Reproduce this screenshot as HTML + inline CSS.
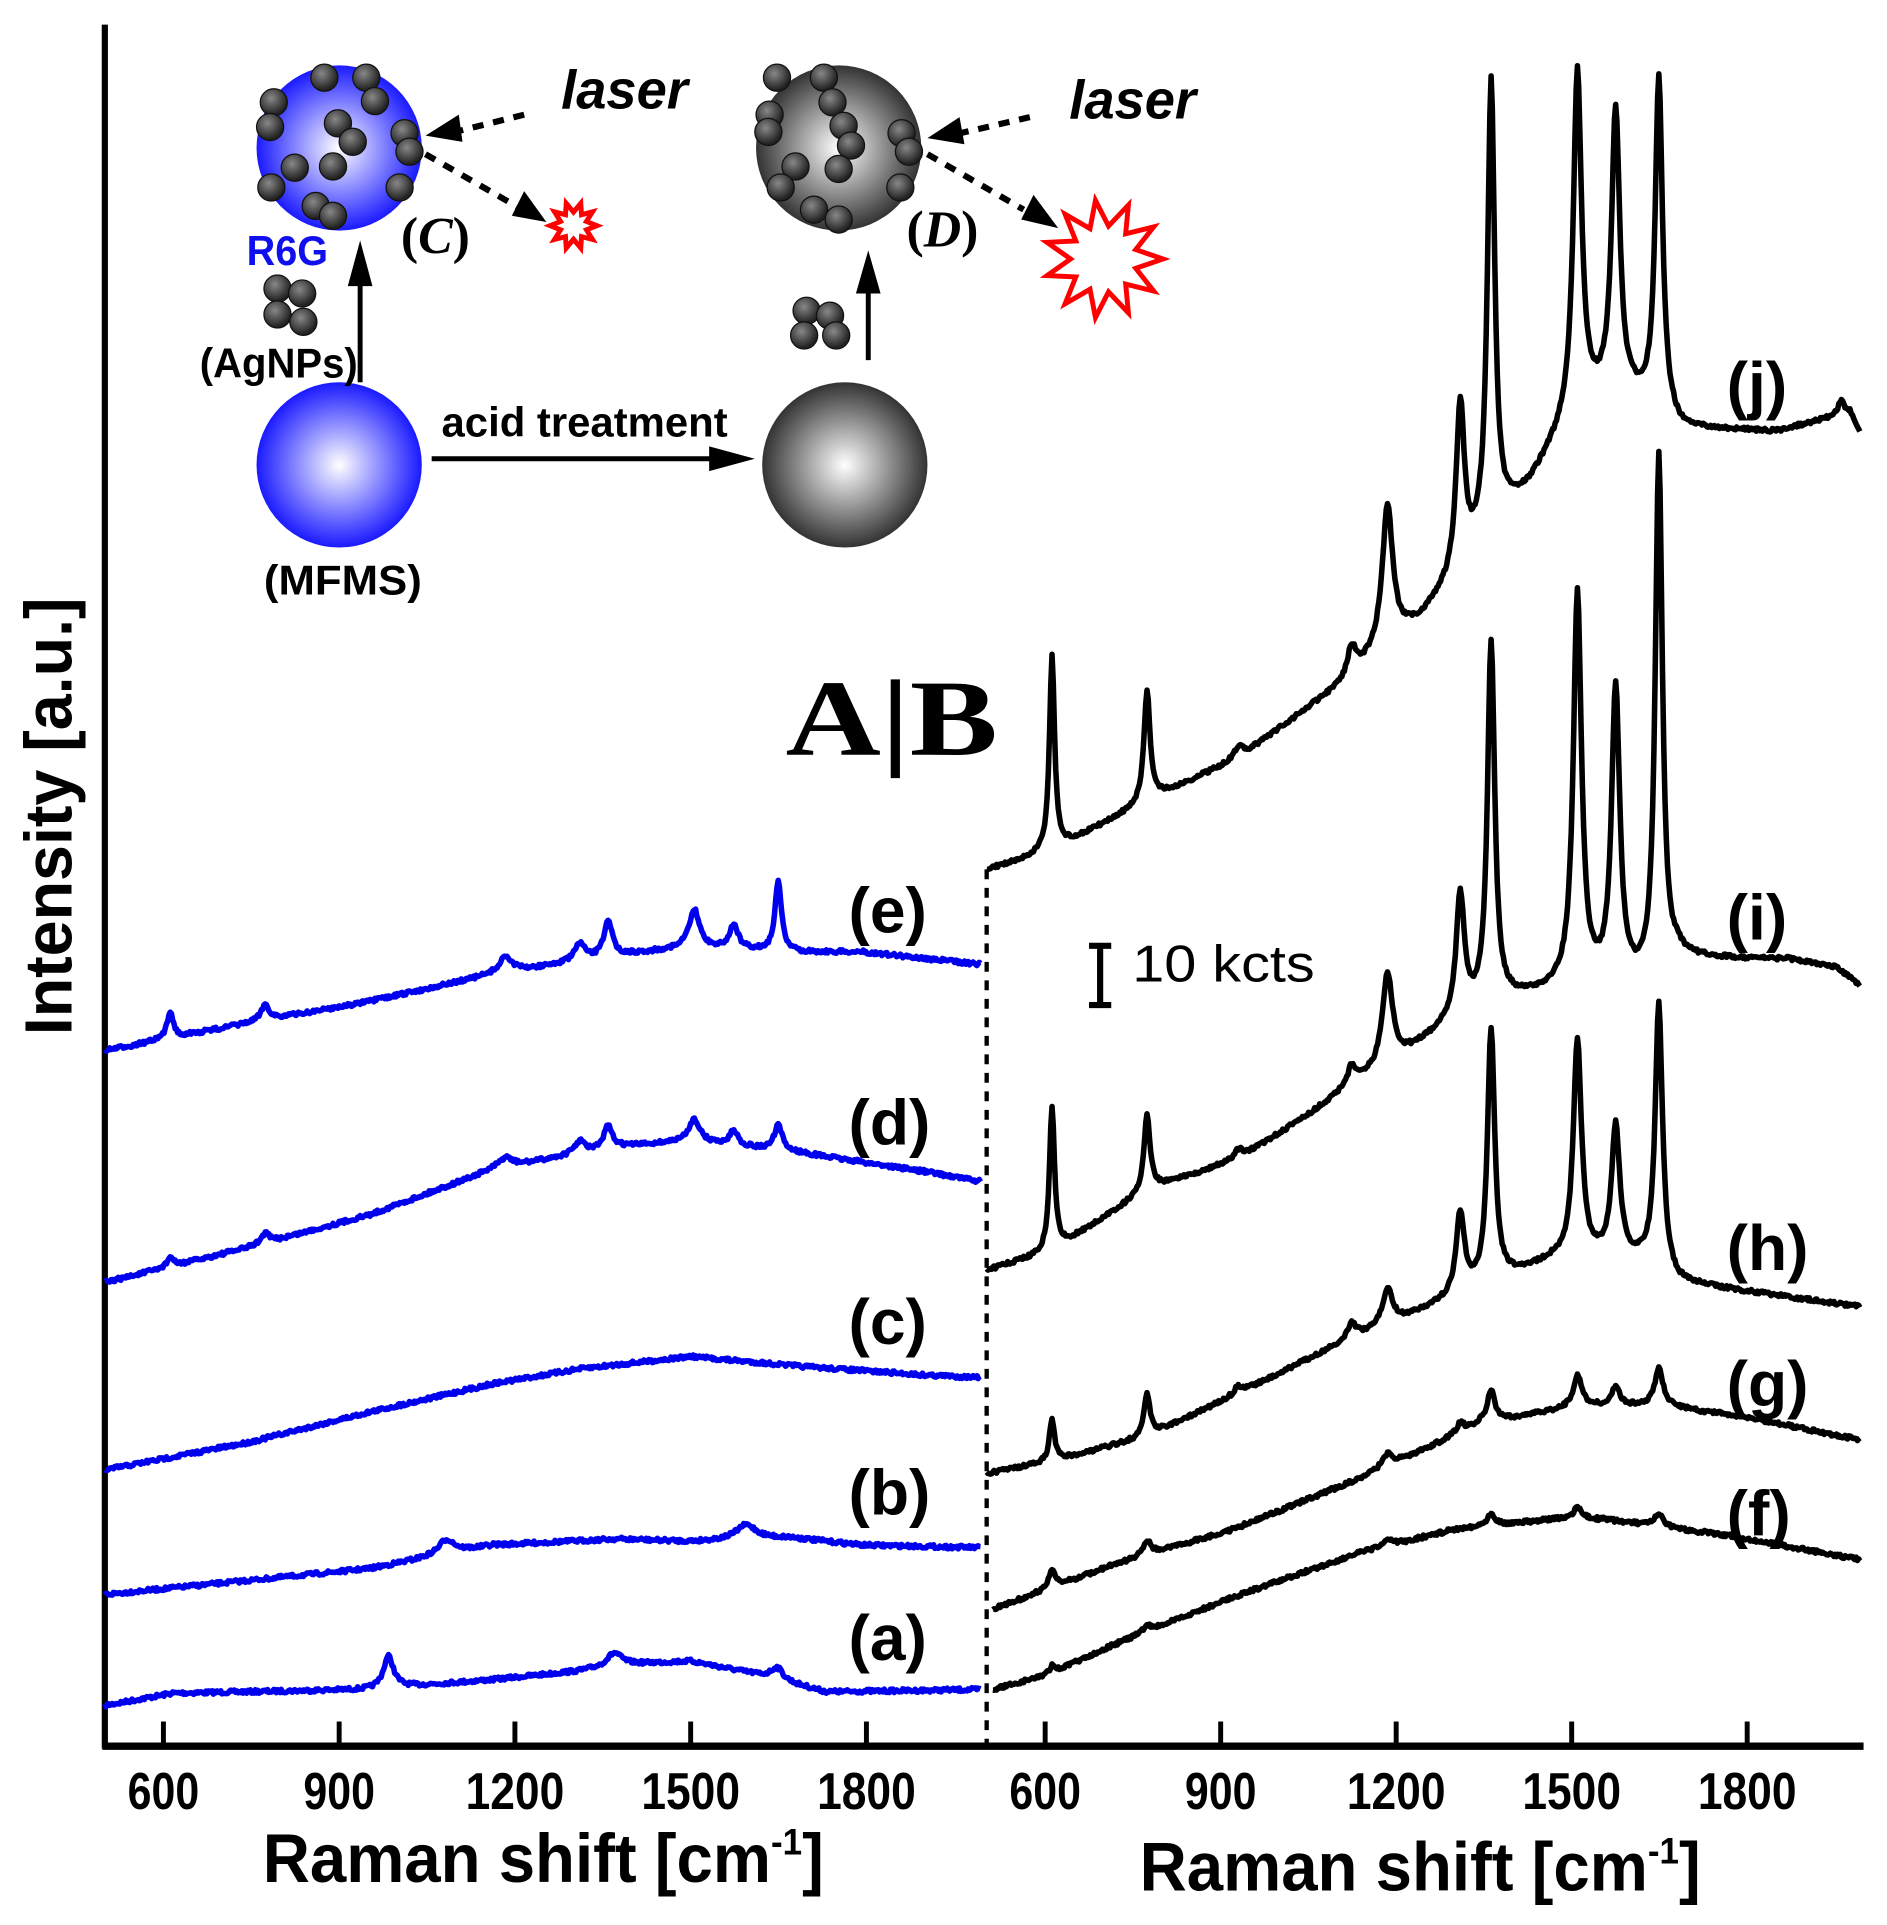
<!DOCTYPE html>
<html><head><meta charset="utf-8"><style>
html,body{margin:0;padding:0;background:#fff;}
svg{display:block;}
.t{font-family:"Liberation Sans",sans-serif;font-weight:bold;}
</style></head><body>
<svg id="s" width="1887" height="1925" viewBox="0 0 1530 1561" preserveAspectRatio="none" xmlns="http://www.w3.org/2000/svg">
<defs>
<radialGradient id="gb" cx="50%" cy="50%" r="50%"><stop offset="0" stop-color="#fff"/><stop offset="1" stop-color="#1a1aff"/></radialGradient>
<radialGradient id="gg" cx="50%" cy="50%" r="50%"><stop offset="0" stop-color="#fff"/><stop offset="1" stop-color="#333"/></radialGradient>
<radialGradient id="gd" cx="40%" cy="35%" r="60%"><stop offset="0" stop-color="#888"/><stop offset="1" stop-color="#222"/></radialGradient>
</defs>
<rect width="1530" height="1561" fill="#fff"/>
<line x1="85" y1="20" x2="85" y2="1418" stroke="#000" stroke-width="5"/>
<line x1="83" y1="1416" x2="1511" y2="1416" stroke="#000" stroke-width="6"/>
<g stroke="#000" stroke-width="4" id="ticks"></g>
<g class="t" font-size="42" text-anchor="middle" id="tl"></g>
<text class="t" x="213" y="1526" font-size="56" textLength="455" lengthAdjust="spacingAndGlyphs">Raman shift [cm<tspan dy="-22" font-size="30">-1</tspan><tspan dy="22">]</tspan></text>
<text class="t" x="924" y="1533" font-size="56" textLength="455" lengthAdjust="spacingAndGlyphs">Raman shift [cm<tspan dy="-22" font-size="30">-1</tspan><tspan dy="22">]</tspan></text>
<text class="t" x="0" y="0" font-size="54" text-anchor="middle" textLength="355" lengthAdjust="spacingAndGlyphs" transform="translate(58,662) rotate(-90)">Intensity [a.u.]</text>
<line x1="800" y1="705" x2="800" y2="1414" stroke="#000" stroke-width="3.5" stroke-dasharray="8,7"/>
<g id="curves" fill="none" stroke-width="4.5" stroke-linejoin="round"></g>
<g class="t" font-size="52">
<text x="688" y="756">(e)</text><text x="688" y="928">(d)</text><text x="688" y="1090">(c)</text>
<text x="688" y="1228">(b)</text><text x="688" y="1346">(a)</text>
<text x="1400" y="330">(j)</text><text x="1400" y="762">(i)</text><text x="1400" y="1030">(h)</text>
<text x="1400" y="1140">(g)</text><text x="1400" y="1245">(f)</text>
</g>
<text x="637" y="612" font-family="Liberation Serif,serif" font-weight="bold" font-size="88" textLength="172" lengthAdjust="spacingAndGlyphs">A|B</text>
<path d="M883,767h18M892,767v48M883,815h18" stroke="#000" stroke-width="5" fill="none"/>
<text x="918" y="796" font-family="Liberation Sans,sans-serif" font-size="42" textLength="148" lengthAdjust="spacingAndGlyphs">10 kcts</text>
<circle cx="275" cy="120" r="67" fill="url(#gb)"/>
<circle cx="680" cy="120" r="67" fill="url(#gg)"/>
<circle cx="275" cy="377" r="67" fill="url(#gb)"/>
<circle cx="685" cy="377" r="67" fill="url(#gg)"/>
<g id="dots" fill="url(#gd)"></g>
<line x1="350" y1="372" x2="580" y2="372" stroke="#000" stroke-width="4"/>
<polygon points="575,362 612,372 575,382" fill="#000"/>
<line x1="292" y1="310" x2="292" y2="225" stroke="#000" stroke-width="4"/>
<polygon points="282,232 292,195 302,232" fill="#000"/>
<line x1="704" y1="292" x2="704" y2="232" stroke="#000" stroke-width="4"/>
<polygon points="694,238 704,203 714,238" fill="#000"/>
<g stroke="#000" stroke-width="5" stroke-dasharray="9,8" fill="none">
<line x1="425" y1="93" x2="365" y2="108"/><line x1="345" y1="125" x2="420" y2="168"/>
<line x1="835" y1="95" x2="770" y2="110"/><line x1="752" y1="125" x2="830" y2="170"/>
</g>
<polygon points="345,110 372,93 375,115" fill="#000"/>
<polygon points="443,180 415,175 425,155" fill="#000"/>
<polygon points="752,112 778,95 782,117" fill="#000"/>
<polygon points="858,185 828,178 838,158" fill="#000"/>
<g id="stars" fill="none" stroke="#f00" stroke-width="4"></g>
<g class="t" font-size="34">
<text x="358" y="354" textLength="232" lengthAdjust="spacingAndGlyphs">acid treatment</text>
<text x="214" y="482" textLength="128" lengthAdjust="spacingAndGlyphs">(MFMS)</text>
<text x="162" y="306" textLength="128" lengthAdjust="spacingAndGlyphs">(AgNPs)</text>
<text x="200" y="215" fill="#1010ee" textLength="66" lengthAdjust="spacingAndGlyphs">R6G</text>
</g>
<g class="t" font-size="44" font-style="italic"><text x="455" y="88">laser</text><text x="867" y="96">laser</text></g>
<g font-family="Liberation Serif,serif" font-size="42" font-weight="bold"><text x="325" y="205">(<tspan font-style="italic">C</tspan>)</text><text x="735" y="200">(<tspan font-style="italic">D</tspan>)</text></g>
</svg>
<script>
const NS="http://www.w3.org/2000/svg";
function el(p,tag,attrs,txt){const e=document.createElementNS(NS,tag);for(const k in attrs)e.setAttribute(k,attrs[k]);if(txt)e.textContent=txt;document.getElementById(p).appendChild(e);return e;}
const Lx=c=>85+(c-500)*142.5/300, Rx=c=>800+(c-500)*142.3/300;
[600,900,1200,1500,1800].forEach(c=>{
 [Lx(c),Rx(c)].forEach(x=>{el("ticks","line",{x1:x,y1:1414,x2:x,y2:1396});el("tl","text",{x:x,y:1467,textLength:c<1000?58:80,lengthAdjust:"spacingAndGlyphs"},String(c));});
});
function interp(pts,x){if(x<=pts[0][0])return pts[0][1];for(let i=1;i<pts.length;i++){if(x<=pts[i][0]){const a=pts[i-1],b=pts[i];return a[1]+(b[1]-a[1])*(x-a[0])/(b[0]-a[0]);}}return pts[pts.length-1][1];}
let seed=7;function rnd(){seed=(seed*16807)%2147483647;return seed/2147483647-0.5;}
function curve(base,peaks,x0,x1,color){
 const pk=peaks.map(p=>[p[0],p[1]<0?-p[1]:interp(base,p[0])-p[1],p[2]||5]);
 let d="";
 for(let x=x0;x<=x1;x+=1){let y=interp(base,x);pk.forEach(p=>{const u=(x-p[0])/p[2];y-=p[1]/(1+u*u);});y+=rnd()*3;d+=(x==x0?"M":"L")+x+","+y.toFixed(1);}
 el("curves","path",{d:d,stroke:color});
}
const B="#0000ee",K="#000";
curve([[85,1383],[140,1373],[300,1370],[400,1362],[470,1355],[500,1350],[560,1347],[610,1357],[670,1372],[795,1370]],[[315,1343,5],[498,-10,7],[630,-10,6]],85,795,B);
curve([[85,1293],[300,1272],[400,1253],[500,1248],[560,1250],[640,1247],[700,1253],[795,1255]],[[362,-12,8],[605,-12,10]],85,795,B);
curve([[85,1192],[200,1170],[300,1145],[400,1122],[470,1110],[560,1100],[650,1108],[750,1115],[795,1117]],[],85,795,B);
curve([[85,1040],[200,1012],[300,985],[400,948],[500,930],[560,925],[650,935],[750,950],[795,958]],[[138,-8,3],[215,-8,4],[410,-8,6],[470,-10,5],[493,-18,4],[563,-18,5],[595,-12,4],[631,-20,4]],85,795,B);
curve([[85,852],[200,830],[300,812],[400,790],[500,775],[560,768],[650,772],[700,772],[795,782]],[[138,-22,3],[215,-13,4],[410,-13,6],[470,-14,5],[493,-30,4],[563,-30,5],[595,-20,4],[631,-58,3]],85,795,B);
curve([[805,1370],[850,1358],[900,1335],[1000,1295],[1100,1260],[1180,1240],[1260,1232],[1300,1232],[1400,1245],[1510,1265]],[[853,-6,3],[930,-5,4],[1125,-5,5],[1209,-10,4],[1279,-10,4],[1345,-10,4]],805,1508,K);
curve([[805,1305],[900,1270],[1000,1240],[1100,1200],[1200,1155],[1280,1140],[1350,1140],[1420,1150],[1510,1168]],[[853,-15,3],[930,-12,4],[1125,-10,5],[1184,-8,4],[1209,-25,4],[1279,-25,4],[1310,-15,4],[1345,-30,4]],805,1508,K);
curve([[800,1195],[853,1185],[930,1165],[1004,1130],[1096,1085],[1125,1075],[1184,1050],[1209,1040],[1260,1022],[1310,1020],[1345,1025],[1360,1040],[1510,1060]],[[853,1150,2.5],[930,1130,3],[1004,-6,4],[1096,-12,4],[1125,1045,5],[1184,985,4],[1209,835,3.5],[1279,845,4],[1310,915,4],[1345,815,3.5]],800,1508,K);
curve([[800,1030],[853,1015],[930,965],[1004,940],[1060,905],[1096,880],[1125,865],[1184,825],[1209,815],[1240,808],[1279,800],[1310,800],[1345,800],[1360,778],[1450,778],[1490,785],[1508,800]],[[853,898,2.5],[930,905,3],[1004,-8,4],[1096,-15,4],[1125,790,5],[1184,728,4],[1209,522,3.5],[1279,484,4],[1310,562,4],[1345,372,3.5]],800,1508,K);
curve([[800,705],[853,690],[930,650],[1004,615],[1060,575],[1096,550],[1125,520],[1150,505],[1184,465],[1209,430],[1240,395],[1279,330],[1310,320],[1345,330],[1362,348],[1440,350],[1500,335],[1508,350]],[[853,532,2.5],[930,560,3],[1004,-10,4],[1096,-25,4],[1125,410,5],[1184,330,4],[1209,68,3.5],[1279,60,4],[1310,92,4],[1345,63,3.5],[1493,-12,3]],800,1508,K);
const dots=[[263,63],[297,63],[304,82],[222,83],[219,103],[274,100],[286,115],[328,108],[332,123],[239,136],[270,135],[220,152],[324,152],[256,167],[270,175],
[630,63],[668,63],[675,83],[624,93],[623,107],[684,102],[690,118],[731,108],[737,123],[645,135],[680,137],[633,152],[730,152],[660,170],[680,178],
[225,234],[245,238],[225,255],[246,261],[654,252],[673,256],[652,272],[678,272]];
dots.forEach(d=>el("dots","circle",{cx:d[0],cy:d[1],r:11,stroke:"#111","stroke-width":1}));
function star(cx,cy,ro,ri,n){let p="";for(let i=0;i<2*n;i++){const r=i%2?ri:ro,a=i*Math.PI/n;p+=(cx+r*Math.cos(a)).toFixed(1)+","+(cy+r*Math.sin(a)).toFixed(1)+" ";}el("stars","polygon",{points:p});}
star(465,183,19,11,10);star(895,210,48,27,11);
</script>
</body></html>
